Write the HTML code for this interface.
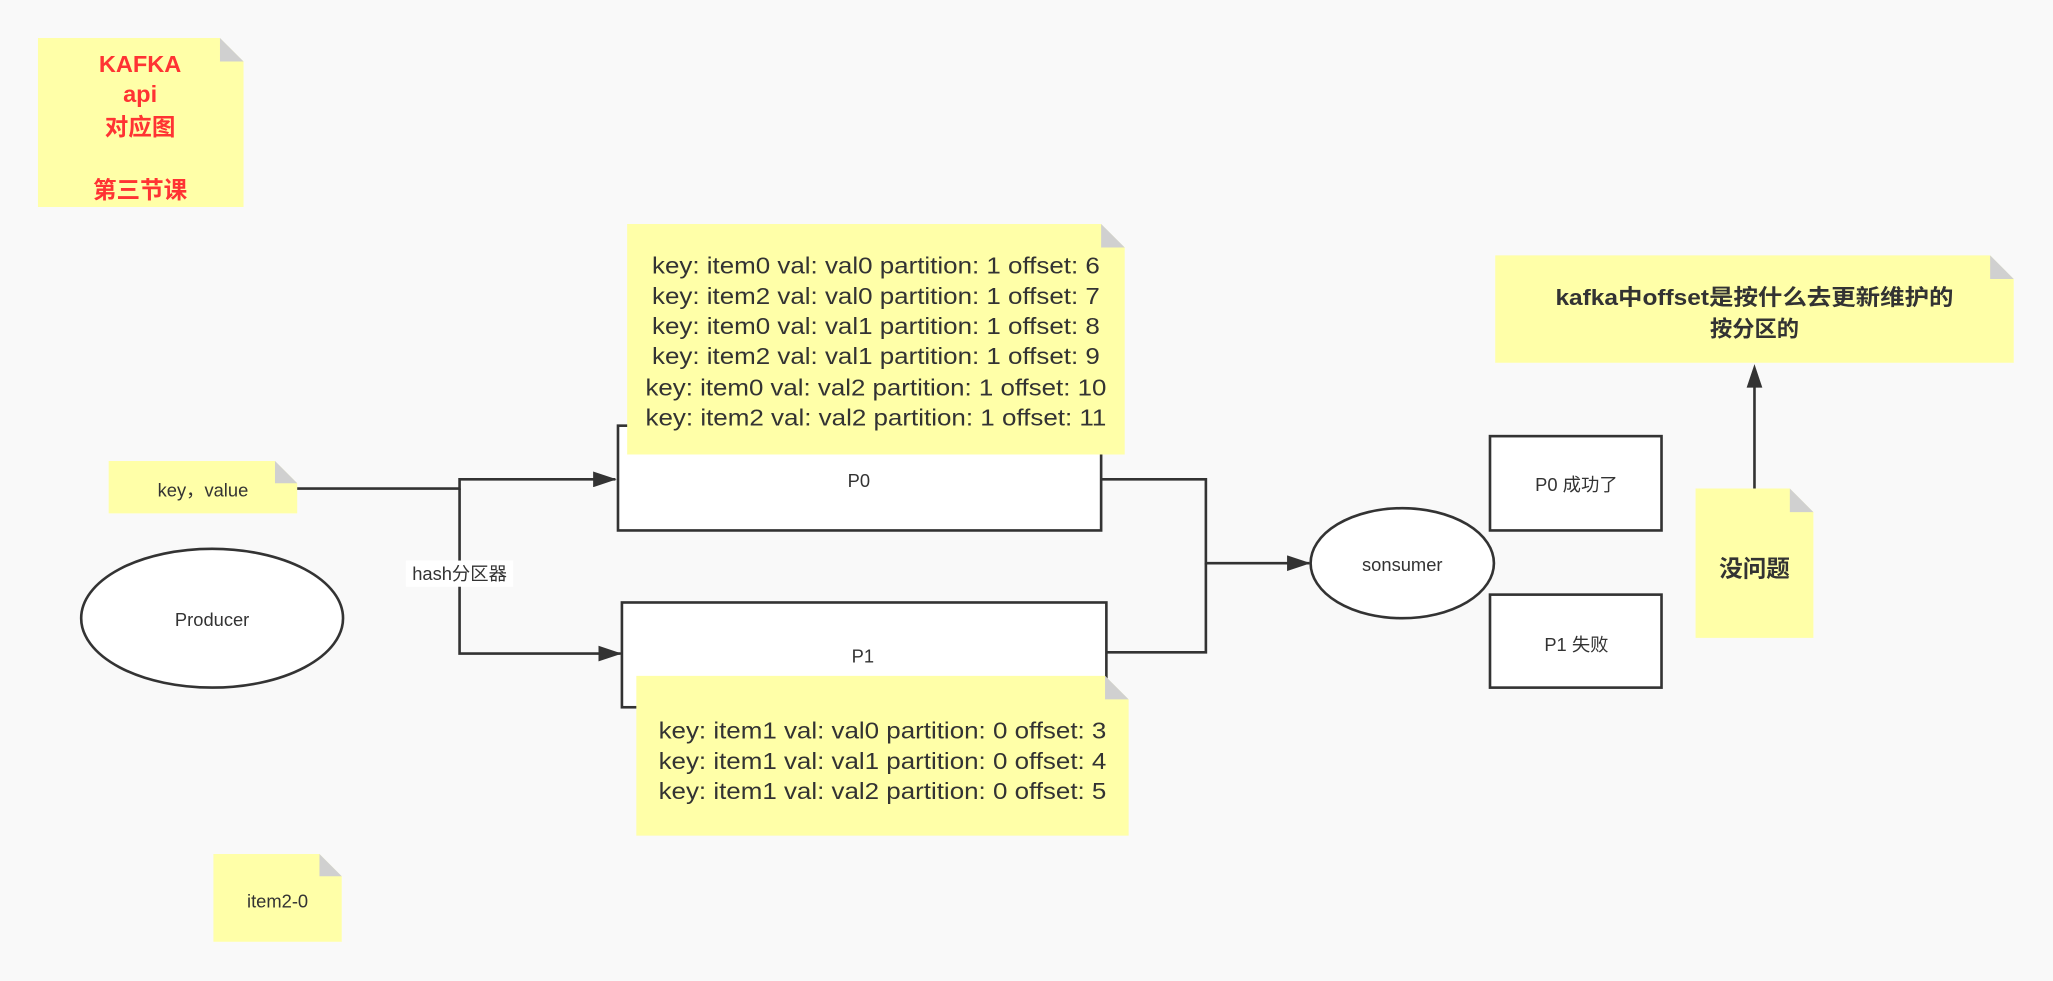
<!DOCTYPE html>
<html><head><meta charset="utf-8"><style>
html,body{margin:0;padding:0;background:#f9f9f9;}
svg{display:block;}
text{font-family:"Liberation Sans","Noto Sans CJK SC",sans-serif;fill:#333;}
</style></head><body>
<svg width="2053" height="981" viewBox="0 0 1568 749" preserveAspectRatio="none" xmlns="http://www.w3.org/2000/svg">
<defs>
<marker id="b" viewBox="0 0 18 12" markerWidth="18" markerHeight="12" refX="17" refY="6" orient="auto" markerUnits="userSpaceOnUse">
<path d="M0,0 L18,6 L0,12 Z" fill="#333"/>
</marker>
</defs>
<rect width="1568" height="749" fill="#f9f9f9"/>

<!-- KAFKA note -->
<path d="M29,29 H168 L186,47 V158 H29 Z" fill="#ffffa8"/>
<path d="M168,29 L186,47 H168 Z" fill="#d0d0d0"/>
<g font-weight="bold" font-size="18" text-anchor="middle">
<text x="107" y="55" style="fill:#ff3333">KAFKA</text>
<text x="107" y="78" style="fill:#ff3333">api</text>
<text x="107" y="103" style="fill:#ff3333">对应图</text>
<text x="107" y="151" style="fill:#ff3333">第三节课</text>
</g>

<!-- Producer -->
<ellipse cx="162" cy="472" rx="100" ry="53" fill="#fff" stroke="#333" stroke-width="2"/>
<text x="162" y="478" font-size="14" text-anchor="middle">Producer</text>

<!-- key,value note -->
<path d="M83,352 H210 L227,369 V392 H83 Z" fill="#ffffa8"/>
<path d="M210,352 L227,369 H210 Z" fill="#d0d0d0"/>
<text x="155" y="379" font-size="14" text-anchor="middle">key，value</text>

<!-- connectors -->
<path d="M227,373 H351 V366 H470" fill="none" stroke="#333" stroke-width="2" marker-end="url(#b)"/>
<path d="M351,373 V499 H474" fill="none" stroke="#333" stroke-width="2" marker-end="url(#b)"/>
<rect x="310" y="428" width="82" height="20" fill="#fff"/>
<text x="351" y="443" font-size="14" text-anchor="middle">hash分区器</text>

<!-- P0 box -->
<rect x="472" y="325" width="369" height="80" fill="#fff" stroke="#333" stroke-width="2"/>
<text x="656" y="372" font-size="14" text-anchor="middle">P0</text>
<!-- P1 box -->
<rect x="475" y="460" width="370" height="80" fill="#fff" stroke="#333" stroke-width="2"/>
<text x="659" y="506" font-size="14" text-anchor="middle">P1</text>

<path d="M841,366 H921 V430 H1000" fill="none" stroke="#333" stroke-width="2" marker-end="url(#b)"/>
<path d="M845,498 H921 V430" fill="none" stroke="#333" stroke-width="2"/>

<!-- top big note -->
<path d="M479,171 H841 L859,189 V347 H479 Z" fill="#ffffa8"/>
<path d="M841,171 L859,189 H841 Z" fill="#d0d0d0"/>
<g font-size="18" text-anchor="middle" lengthAdjust="spacingAndGlyphs">
<text x="669" y="209" textLength="342" lengthAdjust="spacingAndGlyphs">key: item0 val: val0 partition: 1 offset: 6</text>
<text x="669" y="232" textLength="342" lengthAdjust="spacingAndGlyphs">key: item2 val: val0 partition: 1 offset: 7</text>
<text x="669" y="255" textLength="342" lengthAdjust="spacingAndGlyphs">key: item0 val: val1 partition: 1 offset: 8</text>
<text x="669" y="278" textLength="342" lengthAdjust="spacingAndGlyphs">key: item2 val: val1 partition: 1 offset: 9</text>
<text x="669" y="302" textLength="352" lengthAdjust="spacingAndGlyphs">key: item0 val: val2 partition: 1 offset: 10</text>
<text x="669" y="325" textLength="352" lengthAdjust="spacingAndGlyphs">key: item2 val: val2 partition: 1 offset: 11</text>
</g>

<!-- bottom big note -->
<path d="M486,516 H844 L862,534 V638 H486 Z" fill="#ffffa8"/>
<path d="M844,516 L862,534 H844 Z" fill="#d0d0d0"/>
<g font-size="18" text-anchor="middle">
<text x="674" y="564" textLength="342" lengthAdjust="spacingAndGlyphs">key: item1 val: val0 partition: 0 offset: 3</text>
<text x="674" y="587" textLength="342" lengthAdjust="spacingAndGlyphs">key: item1 val: val1 partition: 0 offset: 4</text>
<text x="674" y="610" textLength="342" lengthAdjust="spacingAndGlyphs">key: item1 val: val2 partition: 0 offset: 5</text>
</g>

<!-- sonsumer -->
<ellipse cx="1071" cy="430" rx="70" ry="42" fill="#fff" stroke="#333" stroke-width="2"/>
<text x="1071" y="436" font-size="14" text-anchor="middle">sonsumer</text>

<rect x="1138" y="333" width="131" height="72" fill="#fff" stroke="#333" stroke-width="2"/>
<text x="1204" y="375" font-size="14" text-anchor="middle">P0  成功了</text>
<rect x="1138" y="454" width="131" height="71" fill="#fff" stroke="#333" stroke-width="2"/>
<text x="1204" y="497" font-size="14" text-anchor="middle">P1  失败</text>

<!-- kafka question note -->
<path d="M1142,195 H1520 L1538,213 V277 H1142 Z" fill="#ffffa8"/>
<path d="M1520,195 L1538,213 H1520 Z" fill="#d0d0d0"/>
<g font-size="17" font-weight="bold" text-anchor="middle">
<text x="1340" y="233" textLength="304" lengthAdjust="spacingAndGlyphs">kafka中offset是按什么去更新维护的</text>
<text x="1340" y="257">按分区的</text>
</g>

<!-- 没问题 note -->
<path d="M1295,373 H1367 L1385,391 V487 H1295 Z" fill="#ffffa8"/>
<path d="M1367,373 L1385,391 H1367 Z" fill="#d0d0d0"/>
<text x="1340" y="440" font-size="18" font-weight="bold" text-anchor="middle">没问题</text>
<path d="M1340,373 V290" fill="none" stroke="#333" stroke-width="2"/>
<path d="M1334,296 L1340,278 L1346,296 Z" fill="#333"/>

<!-- item2-0 note -->
<path d="M163,652 H244 L261,669 V719 H163 Z" fill="#ffffa8"/>
<path d="M244,652 L261,669 H244 Z" fill="#d0d0d0"/>
<text x="212" y="693" font-size="14" text-anchor="middle">item2-0</text>
</svg>
</body></html>
